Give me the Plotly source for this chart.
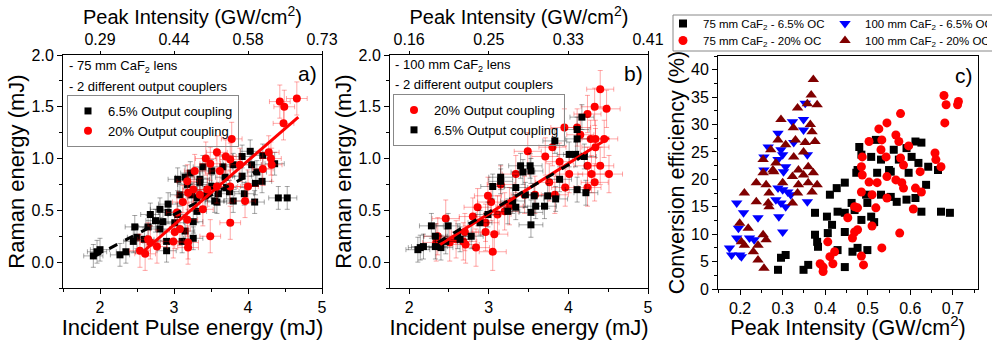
import plotly.graph_objects as go

W, H = 992, 340
def PX(x):
    return x / W
def PY(y):
    return 1 - y / H

# ---------------- Panel a: 75 mm CaF2 lens ----------------
a_black_x = [4.03, 3.92, 4.20, 4.36, 3.80, 4.05, 3.39, 3.66, 3.51, 4.12, 3.15, 3.35, 3.69, 3.92, 4.19,
             3.18, 3.35, 3.51, 3.71, 4.10, 3.08, 3.24, 3.42, 3.58, 3.80, 4.09, 4.41, 4.53, 2.92, 2.92,
             2.68, 2.81, 3.05, 3.31, 2.85, 3.01, 3.26, 2.47, 2.65, 2.81, 2.50, 2.45, 2.90, 3.11, 3.26,
             2.90, 2.27, 2.35, 1.96, 1.91, 2.00, 3.05, 3.22, 3.45, 3.60, 3.75, 3.95, 3.31, 3.55, 2.75,
             2.60, 3.15]
a_black_y = [1.07, 1.02, 1.03, 0.95, 0.94, 0.94, 0.92, 0.92, 0.88, 0.87, 0.82, 0.80, 0.82, 0.83, 0.78,
             0.75, 0.77, 0.73, 0.72, 0.76, 0.65, 0.65, 0.64, 0.58, 0.59, 0.58, 0.62, 0.62, 0.56, 0.48,
             0.46, 0.51, 0.46, 0.49, 0.39, 0.38, 0.39, 0.34, 0.34, 0.32, 0.24, 0.20, 0.20, 0.20, 0.23,
             0.11, 0.07, 0.10, 0.10, 0.06, 0.12, 0.80, 0.86, 0.70, 0.66, 0.68, 0.66, 0.62, 0.59, 0.40,
             0.22, 0.30]
a_red_x = [4.66, 4.43, 4.49, 4.48, 3.78, 3.58, 3.70, 3.76, 4.28, 4.31, 3.43, 3.49, 3.28, 3.62, 3.89,
           3.18, 4.20, 4.32, 3.19, 3.26, 3.35, 3.45, 3.58, 3.76, 4.00, 3.96, 3.12, 3.39, 3.04, 3.18,
           3.76, 3.08, 3.01, 3.49, 3.19, 2.77, 2.68, 2.54, 2.61, 2.65, 3.19, 2.99]
a_red_y = [1.58, 1.55, 1.50, 1.34, 1.19, 1.06, 1.02, 0.99, 1.06, 1.00, 1.00, 0.95, 0.88, 0.88, 0.94,
           0.78, 0.90, 0.94, 0.67, 0.70, 0.65, 0.70, 0.73, 0.73, 0.73, 0.59, 0.58, 0.51, 0.48, 0.41,
           0.38, 0.32, 0.29, 0.25, 0.19, 0.15, 0.19, 0.11, 0.08, 0.22, 0.14, 0.20]
a_fit_black_x = [1.91, 4.12]
a_fit_black_y = [0.05, 0.88]
a_fit_red_x = [2.58, 4.68]
a_fit_red_y = [0.10, 1.40]
a_top_vals = [2, 3, 4, 5]
a_top_text = ["0.29", "0.44", "0.58", "0.73"]

# ---------------- Panel b: 100 mm CaF2 lens ----------------
b_red_x = [4.40, 4.33, 4.48, 4.24, 3.95, 4.11, 4.15, 4.28, 4.34, 4.45, 4.34, 3.80, 3.49, 3.71, 3.89,
           4.24, 4.40, 3.34, 4.01, 4.51, 4.29, 4.33, 4.24, 3.96, 3.76, 3.45, 3.58, 3.83, 2.99, 3.15,
           3.03, 3.20, 3.26, 3.11, 2.86, 2.80, 2.96, 2.46, 2.70, 2.96, 3.07, 2.59, 2.71, 2.84, 2.34,
           2.36, 2.51, 3.05, 2.68]
b_red_y = [1.67, 1.50, 1.48, 1.43, 1.30, 1.30, 1.23, 1.19, 1.19, 1.19, 1.11, 1.11, 1.07, 1.02, 0.97,
           0.93, 0.93, 0.85, 0.85, 0.85, 0.85, 0.77, 0.72, 0.72, 0.77, 0.65, 0.65, 0.65, 0.64, 0.75,
           0.58, 0.49, 0.54, 0.46, 0.53, 0.44, 0.38, 0.42, 0.29, 0.29, 0.27, 0.22, 0.17, 0.14, 0.19,
           0.25, 0.19, 0.10, 0.20]
b_black_x = [4.17, 4.11, 3.83, 4.11, 4.01, 4.09, 4.20, 3.40, 3.52, 3.43, 3.53, 3.89, 3.15, 3.05, 3.15,
             3.34, 3.46, 3.57, 3.74, 3.84, 4.11, 4.22, 3.30, 3.24, 3.34, 3.53, 3.59, 3.70, 3.53, 2.99,
             2.89, 2.28, 2.49, 2.33, 2.61, 2.78, 2.46, 2.64, 2.33, 2.40, 2.14, 2.11, 2.18]
b_black_y = [1.40, 1.28, 1.17, 1.19, 1.04, 1.04, 1.02, 0.93, 0.93, 0.87, 0.88, 0.80, 0.82, 0.73, 0.78,
             0.72, 0.65, 0.64, 0.64, 0.61, 0.70, 0.67, 0.59, 0.49, 0.53, 0.48, 0.54, 0.54, 0.36, 0.46,
             0.38, 0.35, 0.35, 0.25, 0.25, 0.25, 0.20, 0.22, 0.15, 0.14, 0.14, 0.12, 0.15]
b_fit_red_x = [2.39, 4.51]
b_fit_red_y = [0.17, 1.20]
b_fit_black_x = [2.36, 4.22]
b_fit_black_y = [0.19, 1.04]
b_top_vals = [2, 3, 4, 5]
b_top_text = ["0.16", "0.25", "0.33", "0.41"]

# ---------------- Panel c: conversion efficiency ----------------
c_75_65_x = [0.480, 0.519, 0.485, 0.508, 0.531, 0.561, 0.591, 0.612, 0.626, 0.603, 0.619, 0.642, 0.573,
             0.550, 0.476, 0.473, 0.522, 0.554, 0.596, 0.637, 0.665, 0.446, 0.427, 0.411, 0.496, 0.531,
             0.554, 0.568, 0.591, 0.612, 0.462, 0.499, 0.376, 0.404, 0.429, 0.446, 0.485, 0.508, 0.515,
             0.469, 0.626, 0.672, 0.693, 0.416, 0.446, 0.406, 0.376, 0.381, 0.383, 0.429, 0.464, 0.476,
             0.499, 0.296, 0.307, 0.289, 0.349, 0.360, 0.446]
c_75_65_y = [25.9, 27.2, 24.5, 24.1, 23.6, 25.4, 25.7, 26.9, 26.7, 24.1, 23.0, 22.3, 23.6, 21.7, 21.7,
             21.2, 21.2, 21.4, 21.2, 19.0, 21.7, 19.4, 18.4, 17.2, 17.2, 17.2, 16.8, 15.9, 16.3, 16.6,
             15.7, 15.7, 13.9, 13.2, 14.1, 13.9, 12.6, 13.2, 12.2, 14.4, 14.1, 14.1, 13.9, 11.7, 10.4,
             10.2, 9.9, 8.6, 7.7, 7.1, 6.8, 7.5, 7.1, 5.7, 6.2, 3.5, 3.5, 4.4, 4.0]
c_100_65_x = [0.353, 0.323, 0.349, 0.349, 0.289, 0.326, 0.266, 0.296, 0.300, 0.256, 0.358, 0.289, 0.307,
              0.256, 0.302, 0.289, 0.300, 0.312, 0.319, 0.284, 0.296, 0.307, 0.358, 0.192, 0.208, 0.242,
              0.291, 0.300, 0.196, 0.192, 0.222, 0.233, 0.175, 0.180, 0.199, 0.203]
c_100_65_y = [33.9, 30.5, 30.9, 29.0, 28.4, 26.7, 25.9, 25.4, 24.5, 24.1, 24.5, 23.6, 22.3,
              21.7, 21.4, 18.4, 18.1, 17.7, 17.2, 16.3, 15.7, 15.0, 15.9, 15.7, 13.9, 13.0,
              13.2, 10.4, 11.1, 9.3, 9.3, 9.0, 7.5, 6.2, 6.2, 5.9]
c_75_20_x = [0.679, 0.684, 0.713, 0.711, 0.681, 0.577, 0.545, 0.526, 0.503, 0.533, 0.566, 0.573, 0.596,
             0.531, 0.543, 0.487, 0.577, 0.584, 0.658, 0.660, 0.672, 0.485, 0.487, 0.503, 0.522, 0.545,
             0.566, 0.580, 0.584, 0.612, 0.626, 0.623, 0.485, 0.510, 0.545, 0.469, 0.476, 0.519, 0.607,
             0.453, 0.510, 0.469, 0.476, 0.464, 0.575, 0.406, 0.533, 0.422, 0.411, 0.485, 0.418, 0.388,
             0.395, 0.395, 0.490]
c_75_20_y = [35.3, 33.6, 34.2, 33.6, 30.3, 32.0, 30.3, 29.2, 26.9, 27.2, 28.1, 26.9, 26.1, 25.4, 24.1,
             24.1, 23.9, 22.6, 24.8, 23.6, 22.3, 22.3, 20.8, 19.5, 19.4, 20.5, 19.9, 19.4, 18.4, 18.4,
             17.7, 21.4, 17.7, 17.2, 16.6, 15.0, 14.8, 14.8, 14.6, 13.0, 11.5, 10.4, 10.8, 9.3, 10.2,
             8.6, 7.5, 6.8, 5.9, 6.0, 4.6, 4.6, 4.0, 3.2, 4.4]
c_100_20_x = [0.372, 0.367, 0.381, 0.358, 0.335, 0.296, 0.365, 0.325, 0.369, 0.289, 0.307, 0.330, 0.353,
              0.376, 0.272, 0.349, 0.254, 0.284, 0.326, 0.360, 0.277, 0.337, 0.254, 0.279, 0.323, 0.349,
              0.372, 0.238, 0.261, 0.300, 0.337, 0.360, 0.381, 0.210, 0.268, 0.335, 0.369, 0.238, 0.266,
              0.268, 0.323, 0.199, 0.219, 0.254, 0.261, 0.203, 0.210, 0.242, 0.231, 0.242, 0.256]
c_100_20_y = [38.2, 35.4, 33.6, 33.8, 33.0, 30.9, 30.0, 29.4, 28.7, 27.2, 26.3, 27.2, 26.7,
              26.9, 25.4, 25.0, 23.6, 23.0, 24.1, 22.3, 21.7, 21.7, 21.2, 21.4, 20.5, 20.8,
              21.2, 19.4, 19.0, 19.4, 19.0, 19.4, 19.0, 17.5, 17.5, 17.5, 17.7, 15.9, 15.7,
              15.0, 15.7, 12.0, 11.1, 9.9, 9.0, 8.6, 8.0, 8.0, 6.8, 5.3, 3.8]

FONT = "Arial, 'Liberation Sans', sans-serif"
BLACK = "#000000"
RED = "#FF0000"
BLUE = "#0000FF"
MAROON = "#800000"

fig = go.Figure()

# Panel a traces
fig.add_trace(go.Scatter(x=a_black_x, y=a_black_y, mode="markers", xaxis="x", yaxis="y",
                         name="6.5% Output coupling", legend="legend",
                         marker=dict(symbol="square", size=7, color=BLACK),
                         error_x=dict(type="constant", value=0.13, color="rgba(0,0,0,0.35)", thickness=1, width=2.5),
                         error_y=dict(type="constant", value=0.11, color="rgba(0,0,0,0.35)", thickness=1, width=2.5)))
fig.add_trace(go.Scatter(x=a_red_x, y=a_red_y, mode="markers", xaxis="x", yaxis="y",
                         name="20% Output coupling", legend="legend",
                         marker=dict(symbol="circle", size=8, color=RED),
                         error_x=dict(type="constant", value=0.14, color="rgba(255,0,0,0.35)", thickness=1, width=2.5),
                         error_y=dict(type="constant", value=0.16, color="rgba(255,0,0,0.35)", thickness=1, width=2.5)))
fig.add_trace(go.Scatter(x=a_fit_black_x, y=a_fit_black_y, mode="lines", xaxis="x", yaxis="y",
                         showlegend=False, line=dict(color=BLACK, width=3, dash="dash")))
# fit line drawn against the top (intensity) axis, which shares the bottom axis range
fig.add_trace(go.Scatter(x=a_fit_red_x, y=a_fit_red_y, mode="lines", xaxis="x2", yaxis="y",
                         showlegend=False, line=dict(color=RED, width=3)))

# Panel b traces
fig.add_trace(go.Scatter(x=b_red_x, y=b_red_y, mode="markers", xaxis="x3", yaxis="y2",
                         name="20% Output coupling", legend="legend2", legendrank=1,
                         marker=dict(symbol="circle", size=8, color=RED),
                         error_x=dict(type="constant", value=0.17, color="rgba(255,0,0,0.35)", thickness=1, width=2.5),
                         error_y=dict(type="constant", value=0.18, color="rgba(255,0,0,0.35)", thickness=1, width=2.5)))
fig.add_trace(go.Scatter(x=b_black_x, y=b_black_y, mode="markers", xaxis="x3", yaxis="y2",
                         name="6.5% Output coupling", legend="legend2", legendrank=2,
                         marker=dict(symbol="square", size=7, color=BLACK),
                         error_x=dict(type="constant", value=0.15, color="rgba(0,0,0,0.35)", thickness=1, width=2.5),
                         error_y=dict(type="constant", value=0.12, color="rgba(0,0,0,0.35)", thickness=1, width=2.5)))
fig.add_trace(go.Scatter(x=b_fit_red_x, y=b_fit_red_y, mode="lines", xaxis="x3", yaxis="y2",
                         showlegend=False, line=dict(color=RED, width=3)))
fig.add_trace(go.Scatter(x=b_fit_black_x, y=b_fit_black_y, mode="lines", xaxis="x4", yaxis="y2",
                         showlegend=False, line=dict(color=BLACK, width=3, dash="dash")))

# Panel c traces
fig.add_trace(go.Scatter(x=c_75_65_x, y=c_75_65_y, mode="markers", xaxis="x5", yaxis="y3",
                         name="75 mm CaF<sub>2</sub> - 6.5% OC", legend="legend3",
                         marker=dict(symbol="square", size=8, color=BLACK)))
fig.add_trace(go.Scatter(x=c_100_65_x, y=c_100_65_y, mode="markers", xaxis="x5", yaxis="y3",
                         name="100 mm CaF<sub>2</sub> - 6.5% OC", legend="legend3",
                         marker=dict(symbol="triangle-down", size=10, color=BLUE)))
fig.add_trace(go.Scatter(x=c_75_20_x, y=c_75_20_y, mode="markers", xaxis="x5", yaxis="y3",
                         name="75 mm CaF<sub>2</sub> - 20% OC", legend="legend4",
                         marker=dict(symbol="circle", size=9, color=RED)))
fig.add_trace(go.Scatter(x=c_100_20_x, y=c_100_20_y, mode="markers", xaxis="x5", yaxis="y3",
                         name="100 mm CaF<sub>2</sub> - 20% OC", legend="legend4",
                         marker=dict(symbol="triangle-up", size=10, color=MAROON)))

tickfont = dict(family=FONT, size=16, color="black")
common = dict(showline=True, linecolor="black", linewidth=1, showgrid=False, zeroline=False,
              ticks="outside", ticklen=5, tickcolor="black", tickfont=tickfont, automargin=False)
top_common = dict(common)
top_common["ticklen"] = 3

ydom_ab = [PY(288), PY(55)]

fig.update_layout(
    template="none",
    width=W, height=H,
    margin=dict(l=0, r=0, t=0, b=0, pad=0, autoexpand=False),
    paper_bgcolor="white", plot_bgcolor="white",
    font=dict(family=FONT, color="black"),
    xaxis=dict(domain=[PX(63), PX(322)], range=[1.5, 5], anchor="y", dtick=1, mirror=True,
               minor=dict(ticks="outside", ticklen=3, dtick=0.5, tickcolor="black"),
               title=dict(text="Incident Pulse energy (mJ)", font=dict(size=22), standoff=5), **common),
    xaxis2=dict(overlaying="x", side="top", anchor="y", range=[1.5, 5], tickmode="array",
                tickvals=a_top_vals, ticktext=a_top_text,
                title=dict(text="Peak Intensity (GW/cm<sup>2</sup>)", font=dict(size=20), standoff=0), **top_common),
    yaxis=dict(domain=ydom_ab, range=[-0.25, 2.0], anchor="x", dtick=0.5, tick0=0, tickformat=".1f", mirror=True,
               minor=dict(ticks="outside", ticklen=3, dtick=0.25, tickcolor="black"),
               title=dict(text="Raman energy (mJ)", font=dict(size=22), standoff=0), **common),
    xaxis3=dict(domain=[PX(390), PX(648)], range=[1.76, 5], anchor="y2", dtick=1, mirror=True,
                minor=dict(ticks="outside", ticklen=3, dtick=0.5, tickcolor="black"),
                title=dict(text="Incident pulse energy (mJ)", font=dict(size=22), standoff=5), **common),
    xaxis4=dict(overlaying="x3", side="top", anchor="y2", range=[1.76, 5], tickmode="array",
                tickvals=b_top_vals, ticktext=b_top_text,
                title=dict(text="Peak Intensity (GW/cm<sup>2</sup>)", font=dict(size=20), standoff=0), **top_common),
    yaxis2=dict(domain=ydom_ab, range=[-0.25, 2.0], anchor="x3", dtick=0.5, tick0=0, tickformat=".1f", mirror=True,
                minor=dict(ticks="outside", ticklen=3, dtick=0.25, tickcolor="black"),
                title=dict(text="Raman energy (mJ)", font=dict(size=22), standoff=0), **common),
    xaxis5=dict(domain=[PX(718), PX(978)], range=[0.148, 0.759], anchor="y3", dtick=0.1, tick0=0,
                tickformat=".1f", mirror=True,
                minor=dict(ticks="outside", ticklen=3, dtick=0.05, tickcolor="black"),
                title=dict(text="Peak Intensity (GW/cm<sup>2</sup>)", font=dict(size=21.5), standoff=5), **common),
    yaxis3=dict(domain=[PY(289), PY(56)], range=[0, 42.5], anchor="x5", dtick=5, tick0=0, mirror=True,
                minor=dict(ticks="outside", ticklen=3, dtick=2.5, tickcolor="black"),
                title=dict(text="Conversion efficiency (%)", font=dict(size=21.5), standoff=0), **common),
    legend=dict(x=PX(67), y=PY(95), xanchor="left", yanchor="top", bgcolor="rgba(255,255,255,0)",
                bordercolor="#888888", borderwidth=1, font=dict(size=13), itemwidth=30, tracegroupgap=0),
    legend2=dict(x=PX(393), y=PY(94), xanchor="left", yanchor="top", bgcolor="rgba(255,255,255,0)",
                 bordercolor="#888888", borderwidth=1, font=dict(size=13), itemwidth=30, tracegroupgap=0),
    legend3=dict(x=PX(663), y=PY(9), xanchor="left", yanchor="top", orientation="h",
                 bgcolor="rgba(255,255,255,0)", borderwidth=0, font=dict(size=11.5),
                 entrywidth=117, entrywidthmode="pixels", itemwidth=30),
    legend4=dict(x=PX(663), y=PY(26), xanchor="left", yanchor="top", orientation="h",
                 bgcolor="rgba(255,255,255,0)", borderwidth=0, font=dict(size=11.5),
                 entrywidth=117, entrywidthmode="pixels", itemwidth=30),
    shapes=[dict(type="rect", xref="paper", yref="paper", x0=PX(673), x1=PX(1005), y0=PY(51), y1=PY(15),
                 line=dict(color="#888888", width=1), fillcolor="rgba(0,0,0,0)")],
    annotations=[
        dict(text="- 75 mm CaF<sub>2</sub> lens", x=PX(67), y=PY(67), xref="paper", yref="paper",
             xanchor="left", yanchor="middle", showarrow=False, font=dict(size=13)),
        dict(text="- 2 different output couplers", x=PX(67), y=PY(86), xref="paper", yref="paper",
             xanchor="left", yanchor="middle", showarrow=False, font=dict(size=13)),
        dict(text="a)", x=PX(319), y=PY(73), xref="paper", yref="paper",
             xanchor="right", yanchor="middle", showarrow=False, font=dict(size=21)),
        dict(text="- 100 mm CaF<sub>2</sub> lens", x=PX(393), y=PY(65), xref="paper", yref="paper",
             xanchor="left", yanchor="middle", showarrow=False, font=dict(size=13)),
        dict(text="- 2 different output couplers", x=PX(393), y=PY(84), xref="paper", yref="paper",
             xanchor="left", yanchor="middle", showarrow=False, font=dict(size=13)),
        dict(text="b)", x=PX(645), y=PY(73), xref="paper", yref="paper",
             xanchor="right", yanchor="middle", showarrow=False, font=dict(size=21)),
        dict(text="c)", x=PX(975), y=PY(75), xref="paper", yref="paper",
             xanchor="right", yanchor="middle", showarrow=False, font=dict(size=21)),
    ],
)

fig.write_html("out.html")
